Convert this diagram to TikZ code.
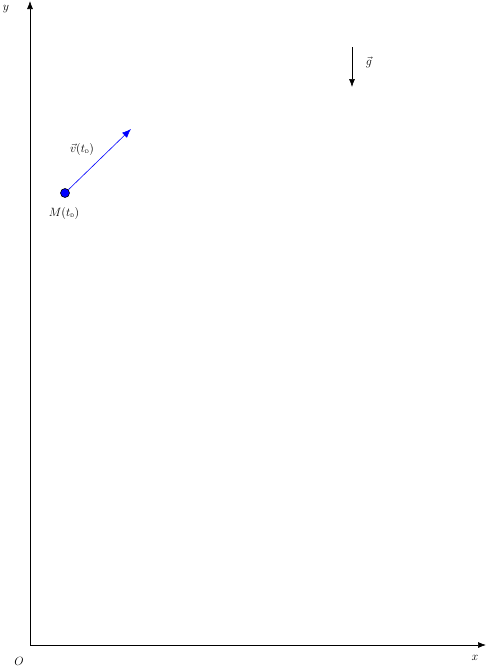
\documentclass[tikz,border=0pt]{standalone}
\usetikzlibrary{arrows.meta}
\begin{document}
\begin{tikzpicture}[x=1pt,y=-1pt,
  axis/.style={line width=0.7pt,-{Latex[length=8pt,width=6pt]}},
  vec/.style={blue,line width=0.6pt,-{Latex[length=9pt,width=7pt]}},
  lbl/.style={inner sep=0pt,font=\fontsize{11.5}{13}\selectfont}]
\useasboundingbox (0,0) rectangle (486,667);
\coordinate (O) at (30,645);
\coordinate (Y) at (30,1);
\coordinate (X) at (486,645);
\draw[axis] (O) -- (Y);
\draw[axis] (O) -- (X);
\node[lbl] (ylab) at (6,9) {$y$};
\node[lbl] (xlab) at (475,658) {$x$};
\node[lbl] (olab) at (19,661) {$O$};
\node[circle,fill=blue,draw=black,line width=0.6pt,minimum size=9pt,inner sep=0pt] (M) at (65,193) {};
\coordinate (V) at (131,129);
\draw[vec] (M) -- (V);
\node[lbl] (mlab) at (64,213) {$M(t_{\textsf{\tiny D}})$};
\node[lbl] (vlab) at (82,149) {$\vec{v}(t_{\textsf{\tiny D}})$};
\coordinate (G1) at (352,47);
\coordinate (G2) at (352,87);
\draw[axis,line width=0.6pt] (G1) -- (G2);
\node[lbl] (glab) at (369,62) {$\vec{g}$};
\end{tikzpicture}
\end{document}
